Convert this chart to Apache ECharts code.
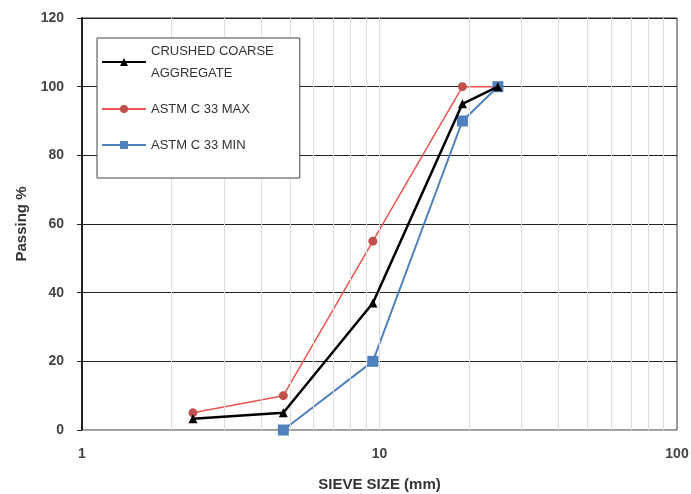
<!DOCTYPE html>
<html><head><meta charset="utf-8">
<script src="https://cdn.jsdelivr.net/npm/echarts@6/dist/echarts.min.js"></script>
<style>html,body{margin:0;padding:0;background:#fff}#c{width:691px;height:494px}</style>
</head><body><div id="c"></div>
<script>
const sieveSizes = [2.36, 4.75, 9.5, 19, 25];
const crushed = [3.3, 5, 37, 95, 100];
const astmMax = [5, 10, 55, 100, 100];
const astmMin = [null, 0, 20, 90, 100];
const minorGrid = [2,3,4,5,6,7,8,9,10,20,30,40,50,60,70,80,90];

const font = "'Liberation Sans',sans-serif";
const pair = arr => sieveSizes.map((x, i) => arr[i] == null ? null : [x, arr[i]]).filter(p => p);

const chart = echarts.init(document.getElementById('c'));
chart.setOption({
  animation: false,
  grid: {left: 82, right: 14, top: 18, bottom: 64, show: true, borderColor: '#333', borderWidth: 1, outerBoundsMode: 'none', containLabel: false},
  xAxis: {
    type: 'log', logBase: 10, min: 1, max: 100,
    name: 'SIEVE SIZE (mm)', nameLocation: 'middle', nameGap: 47,
    nameTextStyle: {fontFamily: font, fontSize: 15, fontWeight: 'bold', color: '#333'},
    axisLine: {lineStyle: {color: '#aaa', width: 1}},
    axisTick: {show: false},
    splitLine: {show: false},
    axisLabel: {fontFamily: font, fontSize: 14, fontWeight: 'bold', color: '#444', margin: 17}
  },
  yAxis: {
    type: 'value', min: 0, max: 120, interval: 20,
    name: 'Passing %', nameLocation: 'middle', nameGap: 42,
    nameTextStyle: {fontFamily: font, fontSize: 15, fontWeight: 'bold', color: '#333'},
    axisLine: {show: true, lineStyle: {color: '#222', width: 2}},
    axisTick: {show: true, length: 5, lineStyle: {color: '#222'}},
    splitLine: {lineStyle: {color: '#222', width: 1}},
    axisLabel: {fontFamily: font, fontSize: 14, fontWeight: 'bold', color: '#444', margin: 18}
  },
  legend: {
    orient: 'vertical', left: 97, top: 38, z: 10,
    backgroundColor: '#fff',
    borderColor: '#444', borderWidth: 1,
    padding: [2, 26, 22, 4], itemGap: 14,
    itemWidth: 44, itemHeight: 10,
    textStyle: {fontFamily: font, fontSize: 13, color: '#333', lineHeight: 22},
    data: ['CRUSHED COARSE\nAGGREGATE', 'ASTM C 33 MAX', 'ASTM C 33 MIN']
  },
  series: [
    {
      name: 'grid', type: 'line', data: [], silent: true,
      markLine: {
        silent: true, symbol: 'none', label: {show: false},
        lineStyle: {color: '#ddd', width: 1, type: 'solid'},
        data: minorGrid.map(v => ({xAxis: v}))
      }
    },
    {
      name: 'ASTM C 33 MAX', type: 'line', data: pair(astmMax),
      symbol: 'circle', symbolSize: 9,
      lineStyle: {color: '#ef5350', width: 1.5},
      itemStyle: {color: '#c0504d'}, z: 3
    },
    {
      name: 'ASTM C 33 MIN', type: 'line', data: pair(astmMin),
      symbol: 'rect', symbolSize: 11,
      lineStyle: {color: '#4f81bd', width: 2},
      itemStyle: {color: '#4f81bd'}, z: 4
    },
    {
      name: 'CRUSHED COARSE\nAGGREGATE', type: 'line', data: pair(crushed),
      symbol: 'triangle', symbolSize: 9,
      lineStyle: {color: '#000', width: 2.5},
      itemStyle: {color: '#000'}, z: 5
    }
  ]
});
</script></body></html>
